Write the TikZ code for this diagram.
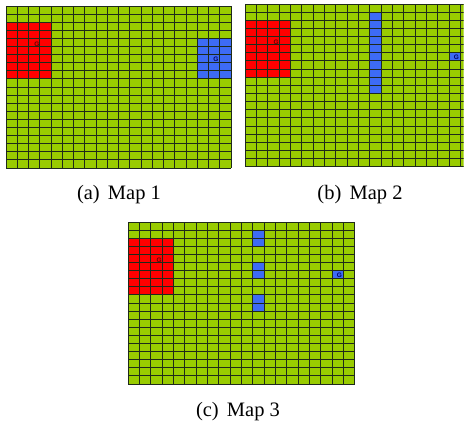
\documentclass[tikz,border=0pt]{standalone}
\usepackage{fontspec}
\setmainfont{Liberation Serif}
\setsansfont{Liberation Sans}
\definecolor{mapgreen}{HTML}{99CC00}
\definecolor{mapred}{HTML}{FF0000}
\definecolor{mapblue}{HTML}{3D6BF5}
\definecolor{gridcol}{HTML}{1E2A1A}
\tikzset{
  cellgreen/.style={fill=mapgreen},
  cellred/.style={fill=mapred},
  cellblue/.style={fill=mapblue},
  gridline/.style={draw=gridcol, line width=0.9bp},
  goallabel/.style={inner sep=0pt, font=\sffamily\bfseries\fontsize{6.5bp}{7bp}\selectfont},
  caption/.style={inner sep=0pt, anchor=base, font=\fontsize{20.5bp}{24bp}\selectfont}
}
\newcommand\mapgrid{%
  \foreach \i in {0,...,20} {\draw[gridline] (\i,0) -- (\i,20);}
  \foreach \j in {0,...,20} {\draw[gridline] (0,\j) -- (20,\j);}
}
\begin{document}
\begin{tikzpicture}[x=1bp,y=-1bp]
\useasboundingbox (0,0) rectangle (466,425);
\fill[white] (0,0) rectangle (466,425);
% Map 1
\begin{scope}[xshift=6bp, yshift=-6bp, x=11.25bp, y=-8.1bp]
  \fill[cellgreen] (0,0) rectangle (20,20);
  \fill[cellred] (0,2) rectangle (4,9);
  \fill[cellblue] (17,4) rectangle (20,9);
  \mapgrid
  \node[goallabel, text=black!60!red] (g1r) at (2.75,4.68) {G};
  \node[goallabel, text=black!60!blue] (g1b) at (18.65,6.6) {G};
\end{scope}
% Map 2 (cropped at right edge)
\begin{scope}
\clip (0,0) rectangle (463.5,425);
\begin{scope}[xshift=245bp, yshift=-4bp, x=11.33bp, y=-8.13bp]
  \fill[cellgreen] (0,0) rectangle (20,20);
  \fill[cellred] (0,2) rectangle (4,9);
  \fill[cellblue] (11,1) rectangle (12,11);
  \fill[cellblue] (18,6) rectangle (19,7);
  \mapgrid
  \node[goallabel, text=black!60!red] (g2r) at (2.75,4.65) {G};
  \node[goallabel, text=black!60!blue] (g2b) at (18.65,6.6) {G};
\end{scope}
\end{scope}
% Map 3
\begin{scope}[xshift=128bp, yshift=-222bp, x=11.33bp, y=-8.1bp]
  \fill[cellgreen] (0,0) rectangle (20,20);
  \fill[cellred] (0,2) rectangle (4,9);
  \fill[cellblue] (11,1) rectangle (12,3);
  \fill[cellblue] (11,5) rectangle (12,7);
  \fill[cellblue] (11,9) rectangle (12,11);
  \fill[cellblue] (18,6) rectangle (19,7);
  \mapgrid
  \node[goallabel, text=black!60!red] (g3r) at (2.75,4.68) {G};
  \node[goallabel, text=black!60!blue] (g3b) at (18.65,6.62) {G};
\end{scope}
% Captions
\node[caption] (capa) at (119,199) {(a)\hspace{0.4em}Map 1};
\node[caption] (capb) at (360,199) {(b)\hspace{0.4em}Map 2};
\node[caption] (capc) at (238,416) {(c)\hspace{0.4em}Map 3};
\end{tikzpicture}
\end{document}
